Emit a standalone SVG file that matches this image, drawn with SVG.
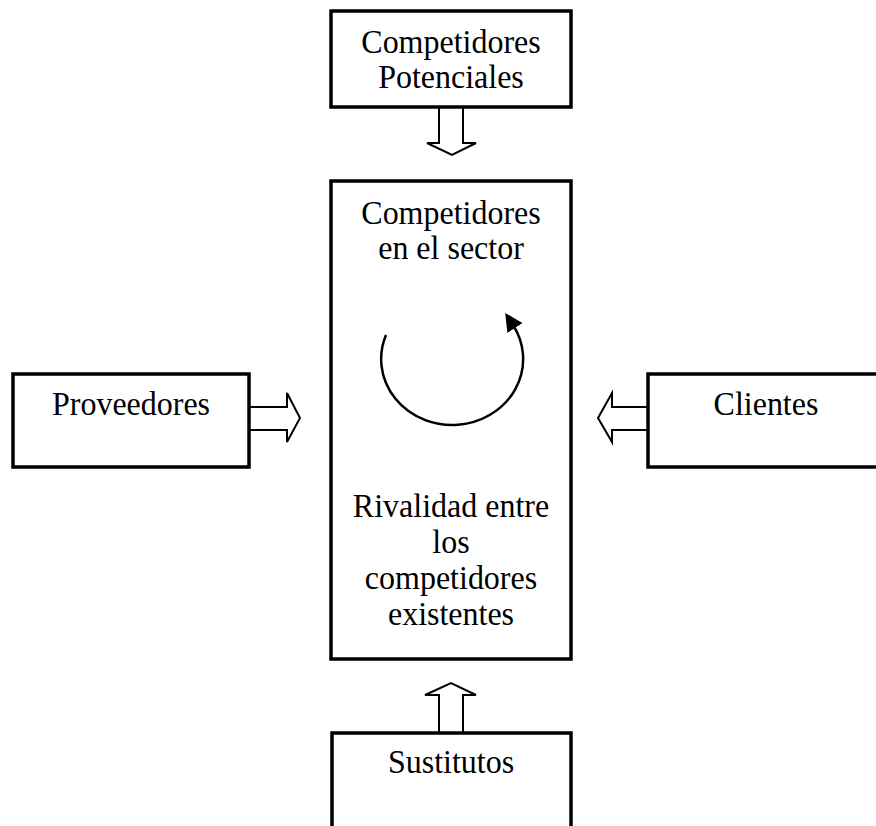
<svg xmlns="http://www.w3.org/2000/svg" width="876" height="826" viewBox="0 0 876 826">
  <defs>
    <style>
      .box { fill: #fff; stroke: #000; stroke-width: 3.5; }
      .arrow { fill: #fff; stroke: #000; stroke-width: 2; stroke-linejoin: miter; }
      .lbl { font-family: "Liberation Serif", "Times New Roman", serif; font-size: 32px; fill: #000; text-anchor: middle; }
      .curve { fill: none; stroke: #000; stroke-width: 2.5; }
    </style>
    <marker id="tip" viewBox="0 0 10 10" refX="2" refY="5" markerWidth="18" markerHeight="18" markerUnits="userSpaceOnUse" orient="auto">
      <path d="M0,0 L10,5 L0,10 Z" fill="#000"/>
    </marker>
  </defs>
  <rect width="876" height="826" fill="#fff"/>

  <!-- force arrows pointing into the central box -->
  <g id="connectors">
    <path class="arrow" d="M439,106 L439,143 L427,143 L452,155 L476,143 L463,143 L463,106"/>
    <path class="arrow" d="M250,407 L287,407 L287,393 L300,418 L287,442 L287,430 L250,430"/>
    <path class="arrow" d="M647,407 L612,407 L612,393 L598,418 L612,442 L612,430 L647,430"/>
    <path class="arrow" d="M439,732 L439,695 L425,695 L451,683 L476,695 L463,695 L463,732"/>
  </g>

  <g id="potenciales">
    <rect class="box" x="331" y="11" width="240" height="96"/>
    <text class="lbl" transform="translate(451,53) scale(1,1.04)">Competidores</text>
    <text class="lbl" transform="translate(451,88) scale(1,1.04)">Potenciales</text>
  </g>

  <g id="sector">
    <rect class="box" x="331" y="181" width="240" height="478"/>
    <text class="lbl" transform="translate(451,224) scale(1,1.04)">Competidores</text>
    <text class="lbl" transform="translate(451,259) scale(1,1.04)">en el sector</text>
    <path class="curve" marker-end="url(#tip)" d="M386,335 A71,66 0 1 0 513,325"/>
    <text class="lbl" transform="translate(451,517) scale(1,1.04)">Rivalidad entre</text>
    <text class="lbl" transform="translate(451,553) scale(1,1.04)">los</text>
    <text class="lbl" transform="translate(451,589) scale(1,1.04)">competidores</text>
    <text class="lbl" transform="translate(451,625) scale(1,1.04)">existentes</text>
  </g>

  <g id="proveedores">
    <rect class="box" x="13" y="374" width="236" height="93"/>
    <text class="lbl" transform="translate(131,415) scale(1,1.04)">Proveedores</text>
  </g>

  <g id="clientes">
    <rect class="box" x="648" y="374" width="240" height="93"/>
    <text class="lbl" transform="translate(766,415) scale(1,1.04)">Clientes</text>
  </g>

  <g id="sustitutos">
    <path class="box" d="M332,830 L332,733 L571,733 L571,830"/>
    <text class="lbl" transform="translate(451,773) scale(1,1.04)">Sustitutos</text>
  </g>
</svg>
